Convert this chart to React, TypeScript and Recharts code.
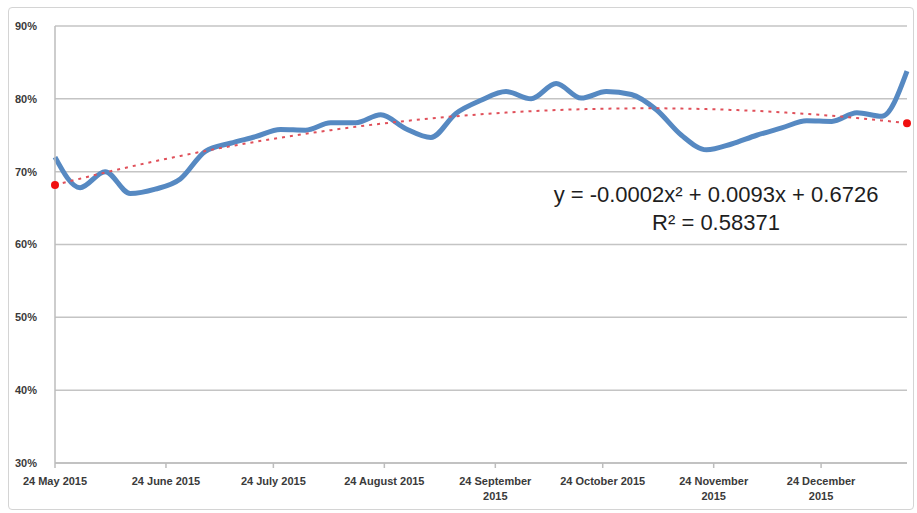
import { LineChart, Line, XAxis, YAxis, CartesianGrid } from 'recharts';

// days since 24 May 2015, one reading per week
const weekDays = [
  0, 7, 14, 21, 28, 35, 42, 49, 56, 63, 70, 77, 84, 91, 98, 105, 112, 119,
  126, 133, 140, 147, 154, 161, 168, 175, 182, 189, 196, 203, 210, 217, 224, 231, 238,
];

const passRate = [
  72.0, 67.8, 70.0, 67.0, 67.6, 69.0, 72.8, 73.9, 74.8, 75.8, 75.7, 76.7, 76.7, 77.8,
  75.9, 74.7, 78.0, 79.8, 81.0, 80.0, 82.1, 80.1, 81.0, 80.6, 78.5, 75.0, 73.0, 73.8,
  75.0, 76.0, 77.0, 76.9, 78.1, 77.6, 83.8,
];

const trend = [
  68.17, 69.04, 69.88, 70.68, 71.44, 72.16, 72.84, 73.49, 74.1, 74.67, 75.2, 75.7,
  76.16, 76.58, 76.96, 77.3, 77.61, 77.88, 78.11, 78.3, 78.46, 78.57, 78.65, 78.69,
  78.7, 78.66, 78.59, 78.48, 78.34, 78.15, 77.93, 77.67, 77.37, 77.03, 76.66,
];

const monthTicks = [0, 31, 61, 92, 123, 153, 184, 214];
const monthLabels = [
  ['24 May 2015'],
  ['24 June 2015'],
  ['24 July 2015'],
  ['24 August 2015'],
  ['24 September', '2015'],
  ['24 October 2015'],
  ['24 November', '2015'],
  ['24 December', '2015'],
];

const yTicks = [30, 40, 50, 60, 70, 80, 90];

const data = weekDays.map((d, i) => ({ day: d, rate: passRate[i], trend: trend[i] }));

const FONT = '"Liberation Sans", Arial, sans-serif';

function MonthTick(props: any) {
  const { x, y, payload } = props;
  const idx = monthTicks.indexOf(payload.value);
  const lines = idx >= 0 ? monthLabels[idx] : [];
  return (
    <g>
      <line x1={x} x2={x} y1={y - 8} y2={y - 3} stroke="#bdbdbd" strokeWidth={1.5} />
      <text x={x} y={y + 14} textAnchor="middle" fontSize={11} fontWeight="bold" fill="#3a3a3a" fontFamily={FONT}>
        {lines.map((l, i) => (
          <tspan key={i} x={x} dy={i === 0 ? 0 : 15}>
            {l}
          </tspan>
        ))}
      </text>
    </g>
  );
}

function EndDot(props: any) {
  const { cx, cy, index } = props;
  if (index !== 0 && index !== trend.length - 1) return <g key={`d${index}`} />;
  return <circle key={`d${index}`} cx={cx} cy={cy} r={4} fill="#f01010" />;
}

export default function App() {
  return (
    <div style={{ position: 'absolute', left: 0, top: 0, width: 917, height: 513, background: '#fff' }}>
      <div
        style={{
          position: 'absolute',
          left: 8,
          top: 7,
          width: 906,
          height: 503,
          border: '1.5px solid #d4d4d4',
          borderRadius: 4,
          boxSizing: 'border-box',
        }}
      />
      <div style={{ position: 'absolute', left: 0, top: 0 }}>
        <LineChart width={917} height={513} data={data} margin={{ top: 26, right: 10, bottom: 0, left: 0 }}>
          <CartesianGrid vertical={false} stroke="#c4c4c4" strokeWidth={1.5} />
          <XAxis
            dataKey="day"
            type="number"
            domain={[0, 238]}
            ticks={monthTicks}
            interval={0}
            height={50}
            tick={<MonthTick />}
            tickLine={false}
            axisLine={{ stroke: '#bdbdbd', strokeWidth: 1.5 }}
          />
          <YAxis
            domain={[30, 90]}
            ticks={yTicks}
            width={55}
            tickFormatter={(v) => `${v}%`}
            tick={{ fontSize: 11, fontWeight: 'bold', fill: '#3a3a3a', fontFamily: FONT }}
            tickLine={false}
            tickMargin={12}
            axisLine={{ stroke: '#bdbdbd', strokeWidth: 1.5 }}
          />
          <Line
            type="monotone"
            dataKey="rate"
            stroke="#5689c2"
            strokeWidth={5}
            dot={false}
            isAnimationActive={false}
          />
          <Line
            type="monotone"
            dataKey="trend"
            stroke="#e0505a"
            strokeWidth={2}
            strokeDasharray="3 5"
            dot={<EndDot />}
            isAnimationActive={false}
          />
          <text x={716} y={202} textAnchor="middle" fontSize={22} fill="#1e1e1e" fontFamily={FONT}>
            y = -0.0002x² + 0.0093x + 0.6726
          </text>
          <text x={716} y={230} textAnchor="middle" fontSize={22} fill="#1e1e1e" fontFamily={FONT}>
            R² = 0.58371
          </text>
        </LineChart>
      </div>
    </div>
  );
}
